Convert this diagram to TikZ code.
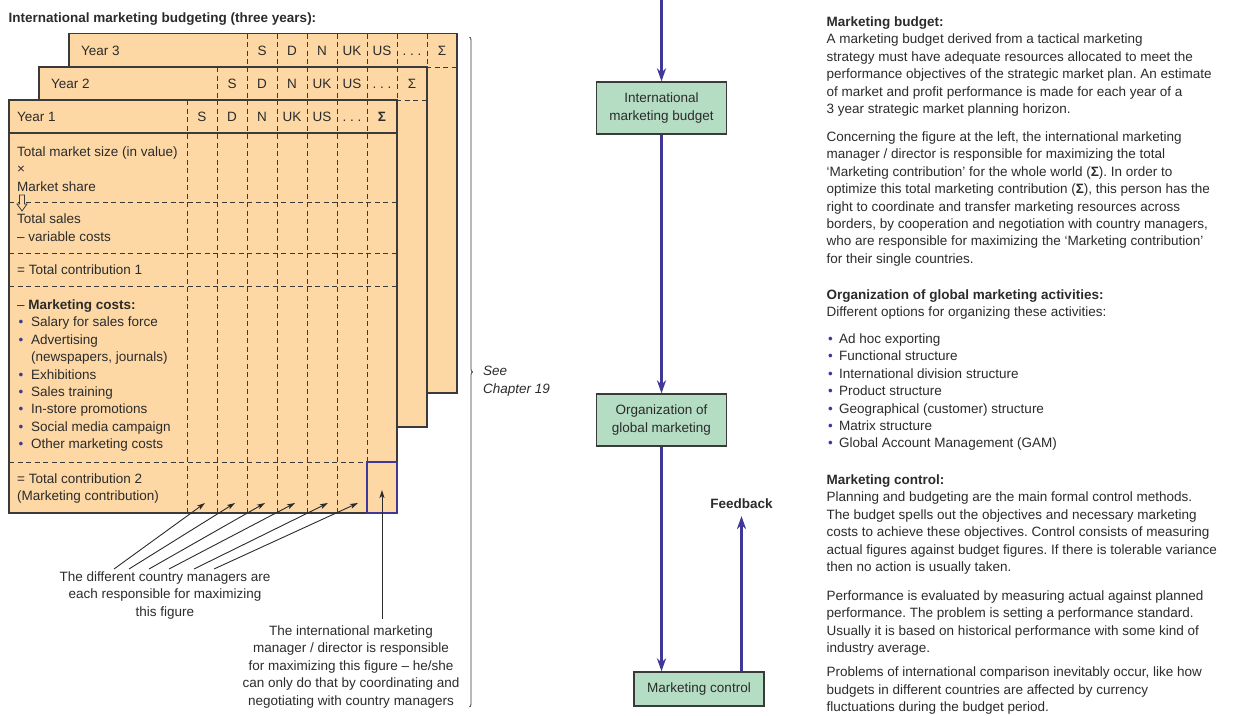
\documentclass[tikz,border=0pt]{standalone}
\usepackage{fontspec}
\setmainfont{Liberation Sans}
\usepackage{tikz}
\usetikzlibrary{arrows.meta,decorations.pathreplacing}
\usepackage{xcolor}
\definecolor{peach}{HTML}{FDD8A5}
\definecolor{mint}{HTML}{B5DDC4}
\definecolor{indigo}{HTML}{403898}
\definecolor{ink}{HTML}{2B2B2B}
\definecolor{rule}{HTML}{3A3A3A}
\newcommand{\basefont}{\fontsize{13.5}{17.4}\selectfont\frenchspacing}
\newcommand{\bul}[1]{\makebox[#1][l]{\hspace{1.5pt}\textcolor{indigo}{•}}}

\begin{document}
\begin{tikzpicture}[x=1pt,y=-1pt,>={Stealth[length=13pt,width=9pt,inset=4pt]},font=\basefont,
  panel/.style={draw=rule,fill=peach,line width=1.2pt},
  cell/.style={draw=rule,line width=1pt,dash pattern=on 5pt off 3.5pt},
  hd/.style={inner sep=0pt,text height=9.7pt,text depth=0pt,text=ink},
  lbl/.style={inner sep=0pt,anchor=north west,align=left,text=ink},
  note/.style={inner sep=0pt,anchor=north,align=center,text=ink},
  flowbox/.style={draw=rule,fill=mint,line width=1.2pt,minimum width=130pt,minimum height=52pt,align=center,text=ink,inner sep=0pt},
  flow/.style={draw=indigo,line width=2.4pt,->},
  ptr/.style={draw=ink,line width=0.9pt,-{Stealth[length=8pt,width=5pt,inset=2pt]}}]
\useasboundingbox (0,0) rectangle (1237,715);
\node[lbl,font=\basefont\bfseries] (title) at (8.5,12.8) {International marketing budgeting (three years):};
\draw[panel] (69,33.5) rectangle (457,393);
\draw[cell] (69,67) -- (457,67);
\foreach \x in {247,277,...,427} \draw[cell] (\x,33.5) -- (\x,67);
\node[hd,anchor=west] (yr3) at (81,50.3) {Year 3};
\foreach \x/\t [count=\i] in {262/S,292/D,322/N,352/UK,382/US,412/. . .,442/Σ}
  \node[hd] (yr3-\i) at (\x,50.3) {\t};
\draw[panel] (39,67) rectangle (427,427);
\draw[cell] (39,100) -- (427,100);
\foreach \x in {217,247,...,397} \draw[cell] (\x,67) -- (\x,100);
\node[hd,anchor=west] (yr2) at (51,83.5) {Year 2};
\foreach \x/\t [count=\i] in {232/S,262/D,292/N,322/UK,352/US,382/. . .,412/Σ}
  \node[hd] (yr2-\i) at (\x,83.5) {\t};
\draw[panel] (9,100) rectangle (397,513);
\foreach \y in {202,253,286,462} \draw[cell] (9,\y) -- (397,\y);
\foreach \x in {187,217,...,367} \draw[cell] (\x,100) -- (\x,513);
\draw[rule,line width=1.2pt] (9,133) -- (397,133) (9,100) rectangle (397,513);
\node[hd,anchor=west] (yr1) at (17,116.5) {Year 1};
\foreach \x/\t [count=\i] in {202/S,232/D,262/N,292/UK,322/US,352/. . .,382/{\bfseries Σ}}
  \node[hd] (yr1-\i) at (\x,116.5) {\t};
\draw[rule,fill=peach,line width=0.8pt] (19.5,195) -- (24.5,195) -- (24.5,204) -- (27,204) -- (22,211) -- (17,204) -- (19.5,204) -- cycle;
\node[lbl] (marketsize) at (17,146.5) {Total market size (in value)\\×\\Market share};
\node[lbl] (sales) at (17,213.8) {Total sales\\-- variable costs};
\node[lbl] (contrib1) at (17,264.5) {= Total contribution 1};
\node[lbl] (mcosts) at (17,299.5) {-- \textbf{Marketing costs:}\\\bul{14pt}Salary for sales force\\\bul{14pt}Advertising\\\hspace*{14pt}(newspapers, journals)\\\bul{14pt}Exhibitions\\\bul{14pt}Sales training\\\bul{14pt}In-store promotions\\\bul{14pt}Social media campaign\\\bul{14pt}Other marketing costs};
\node[lbl] (contrib2) at (17,473.5) {= Total contribution 2\\(Marketing contribution)};
\draw[indigo,line width=2.3pt] (367,462) rectangle (397,513);
\node[note] (managers) at (165,571.5) {The different country managers are\\each responsible for maximizing\\this figure};
\node[note] (director) at (351,625.5) {The international marketing\\manager / director is responsible\\for maximizing this figure -- he/she\\can only do that by coordinating and\\negotiating with country managers};
\foreach \t/\h [count=\i] in {114/205,129/235,149/265,169/295,194/328,214/358} {
  \coordinate (mtail\i) at (\t,569);
  \coordinate (mhead\i) at (\h,503);
  \draw[ptr] (mtail\i) -- (mhead\i);
}
\coordinate (dtail) at (382,619);
\coordinate (dhead) at (382,490);
\draw[ptr] (dtail) -- (dhead);
\draw[rule,line width=0.8pt,decorate,decoration={brace,amplitude=3pt}] (469.5,37) -- (469.5,707);
\node[lbl,font=\basefont\itshape] (see) at (483,366) {See\\Chapter 19};
\coordinate (entry) at (661.5,-1);
\node[flowbox] (budgetbox) at (661.5,108) {International\\marketing budget};
\node[flowbox] (orgbox) at (661.5,420) {Organization of\\global marketing};
\node[flowbox,minimum height=34pt] (controlbox) at (699,689) {Marketing control};
\node[hd,font=\basefont\bfseries] (feedback) at (741.5,504) {Feedback};
\draw[flow] (entry) -- (budgetbox.north);
\draw[flow] (budgetbox.south) -- (orgbox.north);
\draw[flow] (orgbox.south) -- (orgbox.south |- controlbox.north);
\draw[flow,shorten >=7pt] (feedback.south |- controlbox.north) -- (feedback.south);
\node[lbl] (mbudget) at (826.5,16.5) {\textbf{Marketing budget:}\\A marketing budget derived from a tactical marketing\\strategy must have adequate resources allocated to meet the\\performance objectives of the strategic market plan. An estimate\\of market and profit performance is made for each year of a\\3 year strategic market planning horizon.};
\node[lbl] (concern) at (826.5,131.5) {Concerning the figure at the left, the international marketing\\manager / director is responsible for maximizing the total\\‘Marketing contribution’ for the whole world (\textbf{Σ}). In order to\\optimize this total marketing contribution (\textbf{Σ}), this person has the\\right to coordinate and transfer marketing resources across\\borders, by cooperation and negotiation with country managers,\\who are responsible for maximizing the ‘Marketing contribution’\\for their single countries.};
\node[lbl] (orgact) at (826.5,289.5) {\textbf{Organization of global marketing activities:}\\Different options for organizing these activities:};
\node[lbl] (orglist) at (826.5,333.5) {\bul{12.5pt}Ad hoc exporting\\\bul{12.5pt}Functional structure\\\bul{12.5pt}International division structure\\\bul{12.5pt}Product structure\\\bul{12.5pt}Geographical (customer) structure\\\bul{12.5pt}Matrix structure\\\bul{12.5pt}Global Account Management (GAM)};
\node[lbl] (mcontrol) at (826.5,474.5) {\textbf{Marketing control:}\\Planning and budgeting are the main formal control methods.\\The budget spells out the objectives and necessary marketing\\costs to achieve these objectives. Control consists of measuring\\actual figures against budget figures. If there is tolerable variance\\then no action is usually taken.};
\node[lbl] (perf) at (826.5,590.5) {Performance is evaluated by measuring actual against planned\\performance. The problem is setting a performance standard.\\Usually it is based on historical performance with some kind of\\industry average.};
\node[lbl] (probs) at (826.5,667) {Problems of international comparison inevitably occur, like how\\budgets in different countries are affected by currency\\fluctuations during the budget period.};
\end{tikzpicture}
\end{document}
